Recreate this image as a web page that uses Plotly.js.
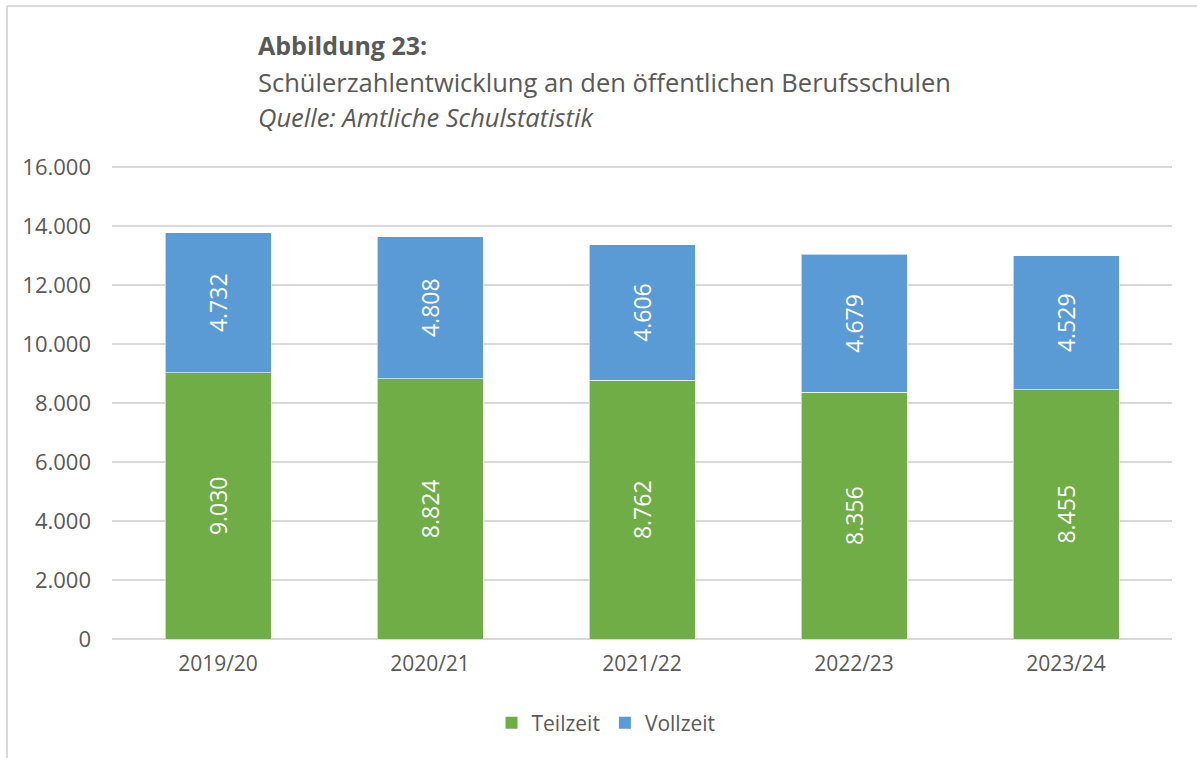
<!DOCTYPE html>
<html>
<head>
<meta charset="utf-8">
<script src="https://cdn.plot.ly/plotly-3.0.1.min.js"></script>
<style>
html,body{margin:0;padding:0;background:#fff;overflow:hidden;}
#chart{width:1197px;height:758px;}
</style>
</head>
<body>
<div id="chart"></div>
<script>
const categories = ["2019/20", "2020/21", "2021/22", "2022/23", "2023/24"];
const teilzeit = [9030, 8824, 8762, 8356, 8455];
const vollzeit = [4732, 4808, 4606, 4679, 4529];
const yTicks = [0, 2000, 4000, 6000, 8000, 10000, 12000, 14000, 16000];

const FONT = "Open Sans, sans-serif";
const GREY = "#595959";
const GREEN = "#70AD47";
const BLUE = "#5B9BD5";

const mk = (name, vals, color) => ({
  type: "bar",
  name: name,
  x: categories,
  y: vals,
  showlegend: false,
  marker: {color: color, line: {color: "rgba(255,255,255,0.6)", width: 1}},
  texttemplate: "%{y:,d}",
  textposition: "inside",
  insidetextanchor: "middle",
  textangle: -90,
  textfont: {family: FONT, size: 23, color: "#ffffff"},
  constraintext: "none",
  hoverinfo: "skip"
});

const lg = (name, color) => ({
  type: "scatter", mode: "markers", name: name,
  x: [null], y: [null],
  marker: {symbol: "square", size: 12, color: color},
  hoverinfo: "skip"
});

const data = [
  mk("Teilzeit", teilzeit, GREEN),
  mk("Vollzeit", vollzeit, BLUE),
  lg("Teilzeit", GREEN),
  lg("Vollzeit", BLUE)
];

const L = 112, R = 25, T = 164, B = 119;
const W = 1197, H = 758;
const pw = W - L - R, ph = H - T - B;
const px = v => (v - L) / pw;
const py = v => (H - B - v) / ph;

const layout = {
  width: W, height: H,
  margin: {l: L, r: R, t: T, b: B, pad: 0},
  paper_bgcolor: "#ffffff",
  plot_bgcolor: "#ffffff",
  separators: ",.",
  barmode: "stack",
  bargap: 0.5,
  font: {family: FONT, color: GREY, size: 22},
  showlegend: true,
  legend: {
    orientation: "h", x: px(606), xanchor: "center", y: py(723), yanchor: "middle",
    font: {family: FONT, size: 21, color: GREY},
    traceorder: "normal", itemwidth: 30, tracegroupgap: 0
  },
  xaxis: {
    type: "category",
    showgrid: false, zeroline: false, showline: false,
    ticks: "", tickfont: {family: FONT, size: 21, color: GREY},
    ticklabelstandoff: 10,
    fixedrange: true
  },
  yaxis: {
    range: [0, 16100],
    tickvals: yTicks,
    tickformat: ",d",
    showgrid: true, gridcolor: "#d9d9d9", gridwidth: 1.5,
    zeroline: true, zerolinecolor: "#d9d9d9", zerolinewidth: 1.5,
    showline: false, ticks: "",
    tickfont: {family: FONT, size: 22, color: GREY},
    ticklabelstandoff: 20,
    fixedrange: true
  },
  annotations: [
    {text: "<b>Abbildung 23:</b>", xref: "paper", yref: "paper", x: px(256), y: py(45),
     xanchor: "left", yanchor: "middle", showarrow: false, font: {family: FONT, size: 25, color: GREY}},
    {text: "Schülerzahlentwicklung an den öffentlichen Berufsschulen", xref: "paper", yref: "paper", x: px(256), y: py(82),
     xanchor: "left", yanchor: "middle", showarrow: false, font: {family: FONT, size: 25.5, color: GREY}},
    {text: "<i>Quelle: Amtliche Schulstatistik</i>", xref: "paper", yref: "paper", x: px(256), y: py(117),
     xanchor: "left", yanchor: "middle", showarrow: false, font: {family: FONT, size: 25.5, color: GREY}}
  ],
  shapes: [
    {type: "line", xref: "paper", yref: "paper", x0: px(7), x1: px(1197), y0: py(6), y1: py(6),
     line: {color: "#d9d9d9", width: 2}},
    {type: "line", xref: "paper", yref: "paper", x0: px(7), x1: px(7), y0: py(6), y1: py(758),
     line: {color: "#d9d9d9", width: 2}}
  ]
};

Plotly.newPlot("chart", data, layout, {displayModeBar: false, staticPlot: true});
</script>
</body>
</html>
